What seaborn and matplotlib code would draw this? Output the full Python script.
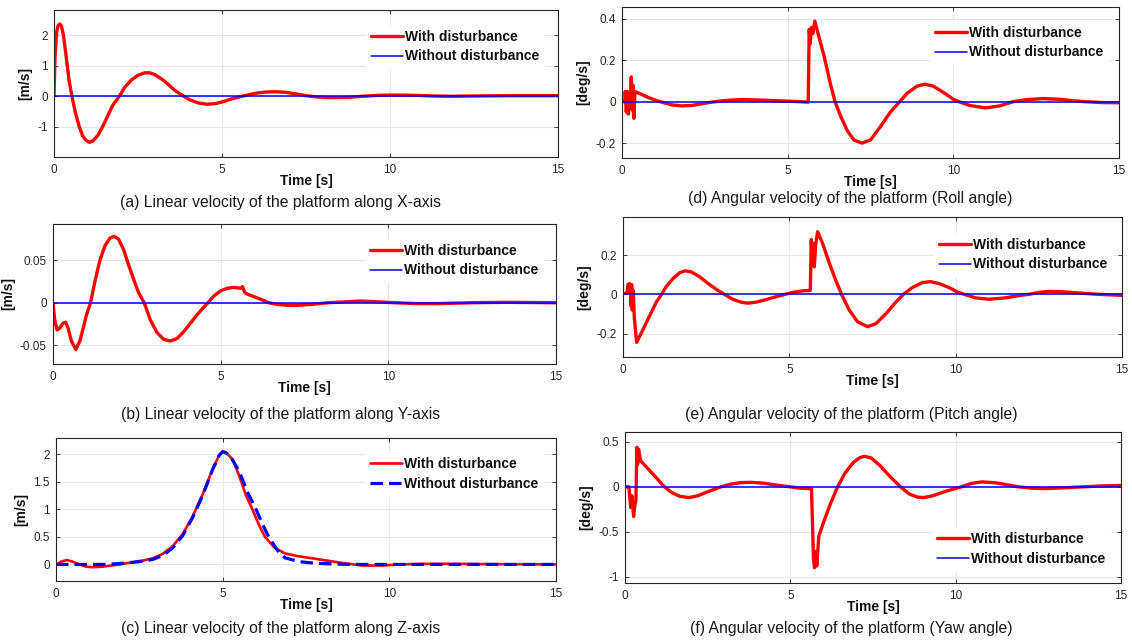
import numpy as np
import pandas as pd
import matplotlib
matplotlib.use("Agg")
import matplotlib.pyplot as plt
import seaborn as sns

# ---------------- data ----------------
# (a) linear velocity X [m/s]
time_a = [0, 0.03, 0.08, 0.12, 0.17, 0.22, 0.28, 0.35, 0.45, 0.55, 0.65, 0.75, 0.85, 0.95, 1.05,
          1.15, 1.3, 1.45, 1.6, 1.75, 1.95, 2.1, 2.3, 2.5, 2.7, 2.85, 3.0, 3.2, 3.4, 3.6,
          3.85, 4.05, 4.3, 4.55, 4.8, 5.05, 5.3, 5.55, 5.75, 6.0, 6.3, 6.6, 6.9, 7.2, 7.5,
          7.8, 8.1, 8.4, 8.8, 9.2, 9.6, 10.0, 10.4, 10.8, 11.3, 11.8, 12.5, 13.5, 14.5, 15.0]
vel_a = [0, 1.3, 2.1, 2.3, 2.36, 2.3, 2.0, 1.4, 0.5, -0.1, -0.6, -1.0, -1.3, -1.45, -1.52,
         -1.48, -1.3, -1.0, -0.65, -0.3, 0.0, 0.28, 0.52, 0.68, 0.76, 0.76, 0.7, 0.56, 0.38, 0.18,
         0.0, -0.13, -0.23, -0.27, -0.25, -0.18, -0.09, -0.02, 0.03, 0.09, 0.13, 0.14, 0.12, 0.07, 0.01,
         -0.03, -0.05, -0.05, -0.04, -0.01, 0.02, 0.03, 0.03, 0.02, 0.0, -0.01, 0.0, 0.01, 0.01, 0.01]

# (b) linear velocity Y [m/s]
time_b = [0, 0.05, 0.12, 0.2, 0.3, 0.38, 0.45, 0.55, 0.68, 0.8, 0.9, 1.0, 1.12, 1.25, 1.4,
          1.55, 1.7, 1.82, 1.95, 2.1, 2.25, 2.4, 2.55, 2.72, 2.9, 3.1, 3.3, 3.5, 3.7, 3.9,
          4.1, 4.3, 4.5, 4.62, 4.8, 5.0, 5.2, 5.4, 5.6, 5.65, 5.72, 5.8, 6.0, 6.2, 6.43, 6.7,
          7.0, 7.3, 7.7, 8.2, 8.7, 9.2, 9.7, 10.2, 10.8, 11.5, 12.5, 13.5, 15.0]
vel_b = [0, -0.02, -0.032, -0.03, -0.024, -0.023, -0.03, -0.045, -0.055, -0.045, -0.03, -0.014,
         0.0, 0.025, 0.05, 0.067, 0.076, 0.078, 0.075, 0.063, 0.045, 0.028, 0.012, 0.0, -0.02,
         -0.035, -0.043, -0.045, -0.042, -0.034, -0.024, -0.014, -0.005, 0.0, 0.008, 0.014, 0.017,
         0.018, 0.017, 0.019, 0.012, 0.01, 0.007, 0.004, 0.0, -0.002, -0.003, -0.003, -0.002, 0.0,
         0.001, 0.002, 0.001, 0.0, -0.001, -0.001, 0.0, 0.0005, 0.0]

# (c) linear velocity Z [m/s]
time_c = [0, 0.15, 0.33, 0.5, 0.7, 0.9, 1.1, 1.4, 1.8, 2.2, 2.6, 2.9, 3.2, 3.5, 3.8, 4.1, 4.4,
          4.7, 4.9, 5.0, 5.1, 5.3, 5.5, 5.7, 5.89, 6.1, 6.27, 6.56, 6.87, 7.25, 7.7, 8.12, 8.67,
          9.2, 9.76, 10.3, 11.0, 12.0, 13.0, 15.0]
vel_c = [-0.01, 0.05, 0.08, 0.05, 0.0, -0.04, -0.05, -0.04, -0.01, 0.03, 0.07, 0.11, 0.19, 0.33,
         0.55, 0.87, 1.27, 1.73, 1.98, 2.05, 2.03, 1.9, 1.6, 1.25, 1.0, 0.7, 0.5, 0.3, 0.2, 0.15,
         0.11, 0.07, 0.02, -0.02, -0.02, 0.0, 0.01, 0.01, 0.005, 0.0]
time_c_ref = [0, 1.0, 1.5, 2.0, 2.5, 2.9, 3.2, 3.5, 3.8, 4.1, 4.4, 4.7, 4.9, 5.0, 5.1, 5.24, 5.5,
              5.75, 6.0, 6.2, 6.38, 6.65, 6.87, 7.3, 7.8, 8.5, 9.0, 15.0]
vel_c_ref = [0, 0, 0.0, 0.02, 0.05, 0.09, 0.16, 0.3, 0.52, 0.85, 1.25, 1.72, 1.98, 2.04, 2.02,
             1.95, 1.68, 1.3, 1.0, 0.72, 0.5, 0.25, 0.12, 0.05, 0.02, 0.005, 0.0, 0.0]

# (d) angular velocity roll [deg/s]
time_d = [0, 0.08, 0.1, 0.13, 0.16, 0.19, 0.22, 0.25, 0.28, 0.3, 0.33, 0.36, 0.39, 0.45, 0.6,
          0.8, 1.0, 1.2, 1.5, 1.8, 2.1, 2.4, 2.7, 3.0, 3.3, 3.6, 4.0, 4.5, 5.0, 5.4, 5.62, 5.65,
          5.68, 5.72, 5.76, 5.82, 5.9, 6.1, 6.3, 6.43, 6.6, 6.8, 7.0, 7.24, 7.5, 7.8, 8.1, 8.38,
          8.6, 8.9, 9.14, 9.4, 9.7, 10.0, 10.2, 10.5, 10.97, 11.4, 11.8, 12.2, 12.7, 13.2, 13.6,
          14.0, 14.5, 15.0]
vel_d = [0.0, 0.0, 0.05, -0.05, 0.05, -0.06, 0.04, -0.03, 0.12, -0.04, 0.08, -0.08, 0.05, 0.045,
         0.035, 0.02, 0.008, -0.002, -0.015, -0.02, -0.018, -0.01, -0.002, 0.004, 0.008, 0.01,
         0.009, 0.006, 0.003, 0.0, -0.002, 0.35, 0.28, 0.36, 0.33, 0.39, 0.34, 0.22, 0.08, 0.0,
         -0.07, -0.14, -0.185, -0.2, -0.185, -0.12, -0.05, 0.0, 0.04, 0.075, 0.085, 0.075, 0.045,
         0.012, -0.002, -0.018, -0.03, -0.02, 0.0, 0.01, 0.015, 0.012, 0.005, 0.0, -0.004, -0.005]

# (e) angular velocity pitch [deg/s]
time_e = [0, 0.12, 0.15, 0.19, 0.22, 0.24, 0.26, 0.28, 0.31, 0.34, 0.41, 0.6, 0.8, 1.0, 1.16,
          1.3, 1.5, 1.7, 1.86, 2.05, 2.3, 2.6, 2.85, 3.05, 3.3, 3.55, 3.75, 4.0, 4.3, 4.6, 4.87,
          5.1, 5.4, 5.63, 5.66, 5.69, 5.72, 5.75, 5.79, 5.85, 6.0, 6.2, 6.4, 6.57, 6.8, 7.05,
          7.35, 7.6, 7.9, 8.2, 8.43, 8.7, 9.0, 9.24, 9.5, 9.8, 10.05, 10.26, 10.6, 11.0, 11.5,
          11.9, 12.2, 12.5, 12.8, 13.2, 13.7, 14.3, 15.0]
vel_e = [0.005, 0.005, 0.05, 0.055, 0.04, -0.06, 0.05, -0.08, 0.02, -0.12, -0.245, -0.18, -0.11,
         -0.04, 0.0, 0.04, 0.08, 0.11, 0.12, 0.115, 0.09, 0.05, 0.02, 0.0, -0.025, -0.04, -0.045,
         -0.04, -0.027, -0.012, 0.0, 0.01, 0.018, 0.02, 0.28, 0.15, 0.26, 0.14, 0.25, 0.32, 0.26,
         0.16, 0.07, 0.0, -0.08, -0.14, -0.165, -0.15, -0.1, -0.04, 0.0, 0.035, 0.06, 0.065, 0.055,
         0.035, 0.012, 0.0, -0.018, -0.025, -0.018, -0.006, 0.0, 0.01, 0.015, 0.013, 0.007, 0.0,
         -0.005]

# (f) angular velocity yaw [deg/s]
time_f = [0, 0.12, 0.17, 0.21, 0.26, 0.3, 0.33, 0.36, 0.38, 0.41, 0.47, 0.7, 0.95, 1.19, 1.4,
          1.65, 1.93, 2.2, 2.5, 2.9, 3.2, 3.5, 3.83, 4.2, 4.6, 5.0, 5.3, 5.64, 5.7, 5.73, 5.77,
          5.8, 5.86, 6.0, 6.2, 6.43, 6.65, 6.9, 7.1, 7.25, 7.45, 7.7, 8.0, 8.33, 8.6, 8.85, 9.03,
          9.3, 9.7, 10.17, 10.5, 10.8, 11.2, 11.6, 11.9, 12.3, 12.67, 13.2, 13.86, 14.4, 15.0]
vel_f = [0.0, 0.0, -0.23, -0.1, -0.33, -0.2, -0.15, 0.44, 0.25, 0.42, 0.29, 0.2, 0.1, 0.0, -0.06,
         -0.105, -0.12, -0.1, -0.055, 0.0, 0.03, 0.047, 0.05, 0.04, 0.018, 0.0, -0.015, -0.02,
         -0.8, -0.9, -0.72, -0.88, -0.55, -0.4, -0.2, 0.0, 0.15, 0.27, 0.325, 0.34, 0.32, 0.24,
         0.12, 0.0, -0.08, -0.115, -0.12, -0.1, -0.05, 0.0, 0.04, 0.055, 0.045, 0.02, 0.0, -0.015,
         -0.02, -0.012, 0.0, 0.01, 0.015]

# reference (without disturbance) for a, b, d, e, f
ref_time = [0, 15]
ref_zero = [0, 0]

series_labels = ["With disturbance", "Without disturbance"]
x_ticks = [0, 5, 10, 15]
x_ticklabels = ["0", "5", "10", "15"]

yticks_a = [-1, 0, 1, 2];            yticklabels_a = ["-1", "0", "1", "2"]
yticks_b = [-0.05, 0, 0.05];         yticklabels_b = ["-0.05", "0", "0.05"]
yticks_c = [0, 0.5, 1, 1.5, 2];      yticklabels_c = ["0", "0.5", "1", "1.5", "2"]
yticks_d = [-0.2, 0, 0.2, 0.4];      yticklabels_d = ["-0.2", "0", "0.2", "0.4"]
yticks_e = [-0.2, 0, 0.2];           yticklabels_e = ["-0.2", "0", "0.2"]
yticks_f = [-1, -0.5, 0, 0.5];       yticklabels_f = ["-1", "-0.5", "0", "0.5"]

captions = {
    "a": "(a) Linear velocity of the platform along X-axis",
    "b": "(b) Linear velocity of the platform along Y-axis",
    "c": "(c) Linear velocity of the platform along Z-axis",
    "d": "(d) Angular velocity of the platform (Roll angle)",
    "e": "(e) Angular velocity of the platform (Pitch angle)",
    "f": "(f) Angular velocity of the platform (Yaw angle)",
}

# ---------------- style ----------------
sns.set_theme(style="whitegrid")
plt.rcParams['font.family'] = ['Liberation Sans', 'DejaVu Sans']
plt.rcParams['axes.unicode_minus'] = False

W, H = 1132, 642
fig = plt.figure(figsize=(W / 100, H / 100), dpi=100)
fig.patch.set_facecolor("white")

RED = "#ff0000"
BLUE = "#0000ff"

panels = [
    # key, box(l,t,r,b) px, t, y, tref, yref, ylabel, ylim, yticks, yticklabels, legend(hx, cy), caption(cx, cy), dashed
    ("a", (54, 10, 558, 157), time_a, vel_a, ref_time, ref_zero, "[m/s]", (-2.0, 2.82),
     yticks_a, yticklabels_a, (371, 46.5), (281, 203), False),
    ("b", (53, 224, 556, 364), time_b, vel_b, ref_time, ref_zero, "[m/s]", (-0.072, 0.0925),
     yticks_b, yticklabels_b, (370, 260.5), (281, 414), False),
    ("c", (56, 438, 556, 581), time_c, vel_c, time_c_ref, vel_c_ref, "[m/s]", (-0.3, 2.29),
     yticks_c, yticklabels_c, (370, 474), (281, 629), True),
    ("d", (622, 7, 1119, 158), time_d, vel_d, ref_time, ref_zero, "[deg/s]", (-0.272, 0.458),
     yticks_d, yticklabels_d, (935, 42.5), (850, 199), False),
    ("e", (623, 217, 1122, 357), time_e, vel_e, ref_time, ref_zero, "[deg/s]", (-0.32, 0.395),
     yticks_e, yticklabels_e, (939, 254.5), (851, 415), False),
    ("f", (625, 432, 1121, 583), time_f, vel_f, ref_time, ref_zero, "[deg/s]", (-1.07, 0.61),
     yticks_f, yticklabels_f, (937, 549), (851, 628), False),
]

LEG_FS = 10
for (key, box, t, y, tr, yr, ylab, ylim, yt, ytl, leg, cap, dashed) in panels:
    l, tp, r, b = box
    ax = fig.add_axes([l / W, 1 - b / H, (r - l) / W, (b - tp) / H])
    ax.set_facecolor("white")

    df_w = pd.DataFrame({"time": t, "value": y})
    df_o = pd.DataFrame({"time": tr, "value": yr})
    if dashed:
        sns.lineplot(data=df_w, x="time", y="value", ax=ax, color=RED, lw=1.9,
                     estimator=None, sort=False, label=series_labels[0],
                     solid_joinstyle="round", solid_capstyle="round")
        sns.lineplot(data=df_o, x="time", y="value", ax=ax, color=BLUE, lw=2.3,
                     estimator=None, sort=False, label=series_labels[1])
        ax.lines[-1].set_dashes((3.9, 1.9))
    else:
        sns.lineplot(data=df_w, x="time", y="value", ax=ax, color=RED, lw=2.4,
                     estimator=None, sort=False, label=series_labels[0],
                     solid_joinstyle="round", solid_capstyle="round")
        sns.lineplot(data=df_o, x="time", y="value", ax=ax, color=BLUE, lw=1.1,
                     estimator=None, sort=False, label=series_labels[1])

    ax.set_xlim(0, 15)
    ax.set_ylim(*ylim)
    ax.set_xticks(x_ticks)
    ax.set_xticklabels(x_ticklabels)
    ax.set_yticks(yt)
    ax.set_yticklabels(ytl)
    ax.grid(True, color="#e6e6e6", lw=0.8)
    ax.set_axisbelow(True)
    for s in ax.spines.values():
        s.set_color("#262626")
        s.set_linewidth(0.8)
        s.set_visible(True)
    ax.tick_params(axis="both", direction="in", length=3, width=0.6, color="#262626",
                   labelcolor="#262626", labelsize=8.5, top=True, right=True,
                   bottom=True, left=True)
    ax.tick_params(axis="x", pad=5)
    ax.tick_params(axis="y", pad=4.5)
    ax.set_xlabel("Time [s]", fontsize=10, fontweight="bold", color="#111111", labelpad=-1.5)
    ax.set_ylabel(ylab, fontsize=10, fontweight="bold", color="#111111", labelpad=3.5)

    hx, cy = leg
    pad_px = 0.35 * LEG_FS * 100 / 72
    lg = ax.legend(loc="center left",
                   bbox_to_anchor=((hx - pad_px) / W, 1 - cy / H),
                   bbox_transform=fig.transFigure, borderaxespad=0,
                   prop={"size": LEG_FS, "weight": "bold"},
                   frameon=True, fancybox=False, framealpha=1.0,
                   facecolor="white", edgecolor="white",
                   borderpad=0.35, labelspacing=0.42, handlelength=2.3,
                   handletextpad=0.15)
    for txt in lg.get_texts():
        txt.set_color("#111111")

    fig.text(cap[0] / W, 1 - cap[1] / H, captions[key], ha="center", va="center",
             fontsize=11.3, color="#1a1a1a")

fig.savefig("out.png", dpi=100, facecolor="white")
